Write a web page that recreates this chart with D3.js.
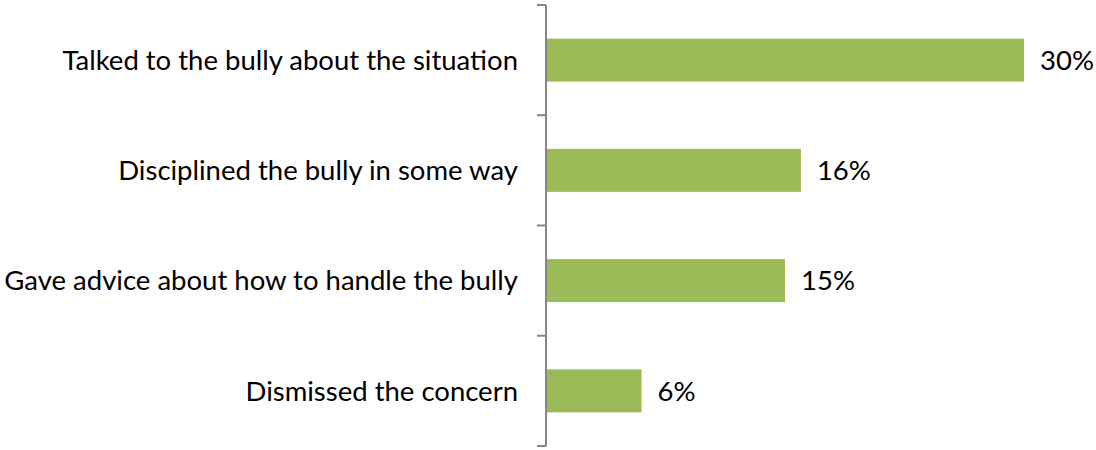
<!DOCTYPE html>
<html><head><meta charset="utf-8">
<script src="https://cdn.jsdelivr.net/npm/d3@7"></script>
<style>body{margin:0;background:#fff}svg{display:block}text{font-family:Lato,"Open Sans",sans-serif;fill:#000}</style>
</head><body><svg id="c" width="1096" height="450"></svg>
<script>
const categories = ["Talked to the bully about the situation","Disciplined the bully in some way","Gave advice about how to handle the bully","Dismissed the concern"];
const values = [30, 16, 15, 6];
const valueLabels = ["30%","16%","15%","6%"];

const svg = d3.select("#c");
const x0 = 546;
const x = d3.scaleLinear().domain([0, 30]).range([x0, 1024]);
const y = d3.scaleBand().domain(categories).range([5, 446]).paddingInner(0.61).paddingOuter(0.305);

svg.selectAll("rect.bar").data(values).join("rect")
  .attr("x", x(0)).attr("y", (d,i)=>y(categories[i]))
  .attr("width", d=>x(d)-x(0)).attr("height", y.bandwidth())
  .attr("fill", "#9BBB59");

const step = y.step();
const edges = d3.range(categories.length+1).map(i => 5 + i*step);
svg.append("line").attr("x1", x0).attr("x2", x0).attr("y1", 5).attr("y2", 446)
  .attr("stroke", "#868686").attr("stroke-width", 2);
svg.selectAll("line.tick").data(edges).join("line").attr("class","tick")
  .attr("x1", x0-9).attr("x2", x0).attr("y1", d=>d).attr("y2", d=>d)
  .attr("stroke", "#868686").attr("stroke-width", 2);

svg.selectAll("text.cat").data(categories).join("text").attr("class","cat")
  .attr("x", 518).attr("y", d=>y(d)+y.bandwidth()/2).attr("dy","0.35em")
  .attr("text-anchor","end").attr("font-size", 27.5).text(d=>d);

svg.selectAll("text.val").data(values).join("text").attr("class","val")
  .attr("x", d=>x(d)+16).attr("y", (d,i)=>y(categories[i])+y.bandwidth()/2).attr("dy","0.35em")
  .attr("font-size", 27.5).text((d,i)=>valueLabels[i]);
</script></body></html>
